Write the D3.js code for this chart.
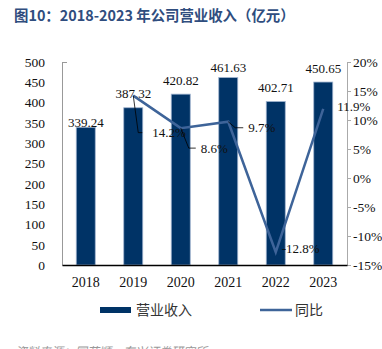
<!DOCTYPE html>
<html><head><meta charset="utf-8">
<script src="https://cdn.jsdelivr.net/npm/d3@7"></script>
<style>html,body{margin:0;padding:0;background:#fff;overflow:hidden}</style>
</head><body>
<svg id="c" width="382" height="349"></svg>
<script>
const years = ["2018","2019","2020","2021","2022","2023"];
const revenue = [339.24, 387.32, 420.82, 461.63, 402.71, 450.65];
const yoy = [null, 14.2, 8.6, 9.7, -12.8, 11.9];
const leftTicks = [0,50,100,150,200,250,300,350,400,450,500];
const rightTicks = [-15,-10,-5,0,5,10,15,20];

const svg = d3.select("#c");
const serif = "'Liberation Serif','Times New Roman',serif";
const cjk = "'Noto Sans CJK SC','Noto Sans',sans-serif";
const L=62, R=347, T=62, B=265;
const x = d3.scaleBand().domain(years).range([L,R]).paddingInner(0.6).paddingOuter(0.3);
const yL = d3.scaleLinear().domain([0,500]).range([B,T]);
const yR = d3.scaleLinear().domain([-15,20]).range([B,T]);

svg.append("text").attr("x",14).attr("y",21).attr("font-family",cjk).attr("font-weight","bold")
  .attr("font-size",14.4).attr("fill","#2f4d7e").text("图10：2018-2023 年公司营业收入（亿元）");

// left axis
const gl = svg.append("g").attr("transform",`translate(${L},0)`)
  .call(d3.axisLeft(yL).tickValues(leftTicks).tickSize(0).tickPadding(17));
gl.select(".domain").attr("stroke","#999");
gl.selectAll("text").attr("font-family",serif).attr("font-size",13.5).attr("fill","#111");
svg.append("line").attr("x1",L).attr("x2",L+5).attr("y1",yL(500)+0.5).attr("y2",yL(500)+0.5).attr("stroke","#999");

// right axis
const gr = svg.append("g").attr("transform",`translate(${R},0)`)
  .call(d3.axisRight(yR).tickValues(rightTicks).tickSize(4).tickPadding(2).tickFormat(d=>d+"%"));
gr.select(".domain").attr("stroke","#aaa");
gr.selectAll(".tick line").attr("stroke","#aaa");
gr.selectAll("text").attr("font-family",serif).attr("font-size",13.5).attr("fill","#111");

// bars
svg.append("g").selectAll("rect").data(years).join("rect")
  .attr("x",d=>x(d)).attr("width",x.bandwidth())
  .attr("y",(d,i)=>yL(revenue[i])).attr("height",(d,i)=>B-yL(revenue[i]))
  .attr("fill","#003366").attr("stroke","#9fb3cf").attr("stroke-width",0.8);

// bottom axis
const gb = svg.append("g").attr("transform",`translate(0,${B})`)
  .call(d3.axisBottom(x).tickSize(0).tickPadding(12));
gb.select(".domain").attr("stroke","#000").attr("stroke-width",1.3);
gb.selectAll("text").attr("font-family",serif).attr("font-size",14).attr("fill","#111");

// bar labels
const barLabelLift = [5,14,14,10,14,14];
svg.append("g").selectAll("text").data(years).join("text")
  .attr("x",d=>x(d)+x.bandwidth()/2).attr("y",(d,i)=>yL(revenue[i])-barLabelLift[i]+4.5)
  .attr("text-anchor","middle").attr("font-family",serif).attr("font-size",13).attr("fill","#111")
  .text((d,i)=>revenue[i].toFixed(2));

// line
const pts = years.map((d,i)=>({d, v:yoy[i]})).filter(p=>p.v!==null);
const cx = d=>x(d)+x.bandwidth()/2;
svg.append("path").datum(pts).attr("fill","none").attr("stroke","#3e6499").attr("stroke-width",2.5)
  .attr("d", d3.line().x(p=>cx(p.d)).y(p=>yR(p.v)));

// line labels with leaders: [elbow dx, elbow dy, end dx, text dx, text dy]
const callouts = {"2019":[5,37,9,19,37],"2020":[8,20,15,20,20],"2021":[7,6,15,20,6],"2022":[null,0,0,6,-4],"2023":[null,0,0,14,-2]};
pts.forEach(p=>{
  const px=cx(p.d), py=yR(p.v), c=callouts[p.d];
  if(c[0]!==null){
    svg.append("path").attr("fill","none").attr("stroke","#000").attr("stroke-width",0.8)
      .attr("d",`M${px},${py}L${px+c[0]},${py+c[1]}L${px+c[2]},${py+c[1]}`);
  }
  svg.append("text").attr("x",px+c[3]).attr("y",py+c[4]+4.5)
    .attr("font-family",serif).attr("font-size",13).attr("fill","#111").text(p.v.toFixed(1)+"%");
});

// legend
svg.append("rect").attr("x",100).attr("y",307).attr("width",31).attr("height",6).attr("fill","#003366");
svg.append("text").attr("x",136).attr("y",315).attr("font-family",cjk).attr("font-size",14).attr("fill","#333").text("营业收入");
svg.append("line").attr("x1",260).attr("x2",292).attr("y1",310).attr("y2",310).attr("stroke","#3e6499").attr("stroke-width",2.5);
svg.append("text").attr("x",295).attr("y",315).attr("font-family",cjk).attr("font-size",14).attr("fill","#333").text("同比");

svg.append("text").attr("x",15).attr("y",356).attr("font-family",cjk).attr("font-size",12).attr("font-style","italic").attr("fill","#999").text("资料来源：同花顺，东兴证券研究所");
</script>
</body></html>
